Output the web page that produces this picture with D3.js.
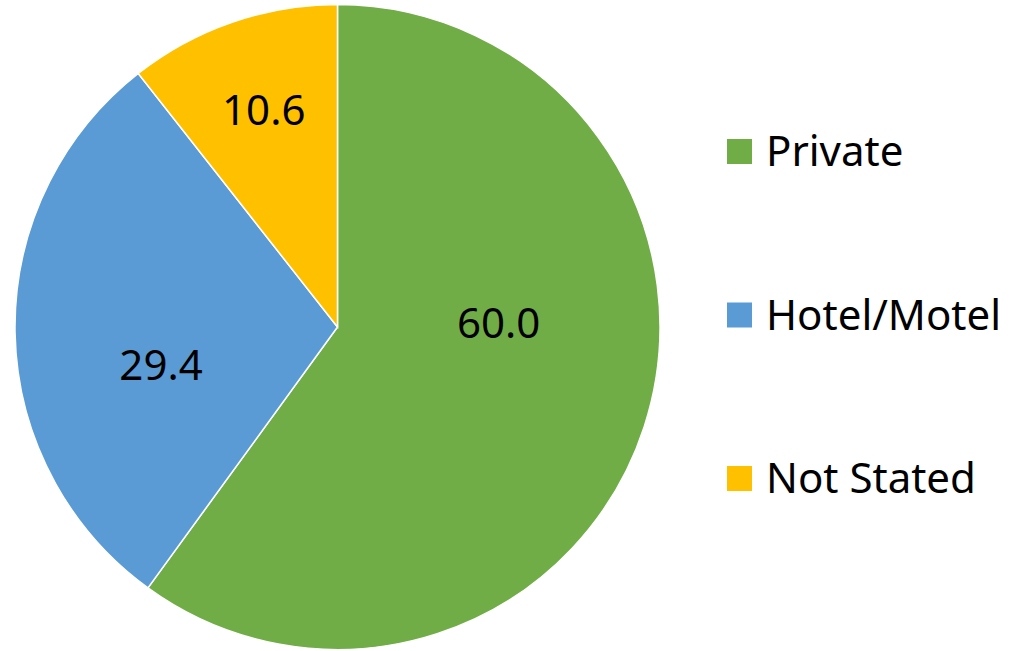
<!DOCTYPE html>
<html>
<head>
<meta charset="utf-8">
<script src="https://cdn.jsdelivr.net/npm/d3@7"></script>
<style>
  html, body { margin: 0; padding: 0; background: #fff; }
  svg { display: block; font-family: "Noto Sans", "Open Sans", sans-serif; }
</style>
</head>
<body>
<script>
// data
const categories = ["Private", "Hotel/Motel", "Not Stated"];
const values = [60.0, 29.4, 10.6];
const colors = ["#70AD47", "#5B9BD5", "#FFC000"];
// small nudges so labels sit where the original put them
const labelRadius = [0.5, 0.56, 0.71];
const labelAngleShift = [-0.34, -0.195, 0.005];

const width = 1017;
const height = 651;
const cx = 337.5;
const cy = 327;
const radius = 322.5;

const svg = d3.select("body")
    .append("svg")
    .attr("width", width)
    .attr("height", height);

const pie = d3.pie().sort(null).value((d) => d);
const arcs = pie(values);

const arc = d3.arc().innerRadius(0).outerRadius(radius);

const g = svg.append("g").attr("transform", `translate(${cx}, ${cy})`);

g.selectAll("path")
    .data(arcs)
    .enter()
    .append("path")
    .attr("d", arc)
    .attr("fill", (_, i) => colors[i])
    .attr("stroke", "#fff")
    .attr("stroke-width", 1.5);

// LABELS
g.selectAll("text")
    .data(arcs)
    .enter()
    .append("text")
    .attr("transform", (d, i) => {
        const a = (d.startAngle + d.endAngle) / 2 + labelAngleShift[i];
        const r = radius * labelRadius[i];
        return `translate(${Math.sin(a) * r}, ${-Math.cos(a) * r})`;
    })
    .attr("text-anchor", "middle")
    .attr("dy", "0.35em")
    .attr("font-size", 42)
    .attr("fill", "#000")
    .text((d) => d.data.toFixed(1));

// LEGEND
const legendY = d3.scalePoint()
    .domain(categories)
    .range([151.5, 478.5]);

const legend = svg.append("g")
    .selectAll("g")
    .data(categories)
    .enter()
    .append("g")
    .attr("transform", (d) => `translate(727, ${legendY(d)})`);

legend.append("rect")
    .attr("x", 0)
    .attr("y", -12.5)
    .attr("width", 25)
    .attr("height", 25)
    .attr("fill", (_, i) => colors[i]);

legend.append("text")
    .attr("x", 39)
    .attr("y", 14.5)
    .attr("font-size", 42)
    .attr("fill", "#000")
    .text((d) => d);
</script>
</body>
</html>
